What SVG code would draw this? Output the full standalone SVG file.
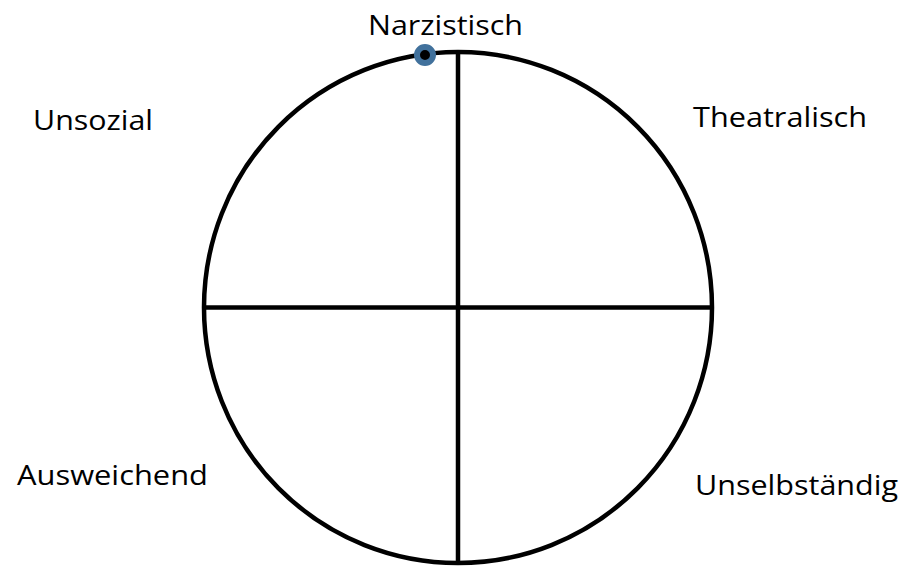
<svg xmlns="http://www.w3.org/2000/svg" width="908" height="569" viewBox="0 0 908 569">
<style>
.lbl{font-family:"Open Sans","Liberation Sans",sans-serif;font-size:28px;fill:#000}
.ln{stroke:#000;stroke-width:4.5;fill:none}
</style>
<rect width="908" height="569" fill="#fff"/>
<g id="connectors">
<ellipse class="ln" cx="458" cy="307.5" rx="254" ry="255.5"/>
<line class="ln" x1="458" y1="52" x2="458" y2="563"/>
<line class="ln" x1="204" y1="307.5" x2="712" y2="307.5"/>
</g>
<g id="marker-point">
<circle cx="425" cy="55" r="8" fill="#000" stroke="#41719C" stroke-width="6"/>
</g>
<g id="narzistisch"><text class="lbl" x="368" y="35" textLength="155" lengthAdjust="spacingAndGlyphs">Narzistisch</text></g>
<g id="unsozial"><text class="lbl" x="33" y="130" textLength="120" lengthAdjust="spacingAndGlyphs">Unsozial</text></g>
<g id="theatralisch"><text class="lbl" x="693" y="127" textLength="174" lengthAdjust="spacingAndGlyphs">Theatralisch</text></g>
<g id="ausweichend"><text class="lbl" x="17" y="485" textLength="191" lengthAdjust="spacingAndGlyphs">Ausweichend</text></g>
<g id="unselbstaendig"><text class="lbl" x="695" y="495" textLength="203" lengthAdjust="spacingAndGlyphs">Unselbständig</text></g>
</svg>
